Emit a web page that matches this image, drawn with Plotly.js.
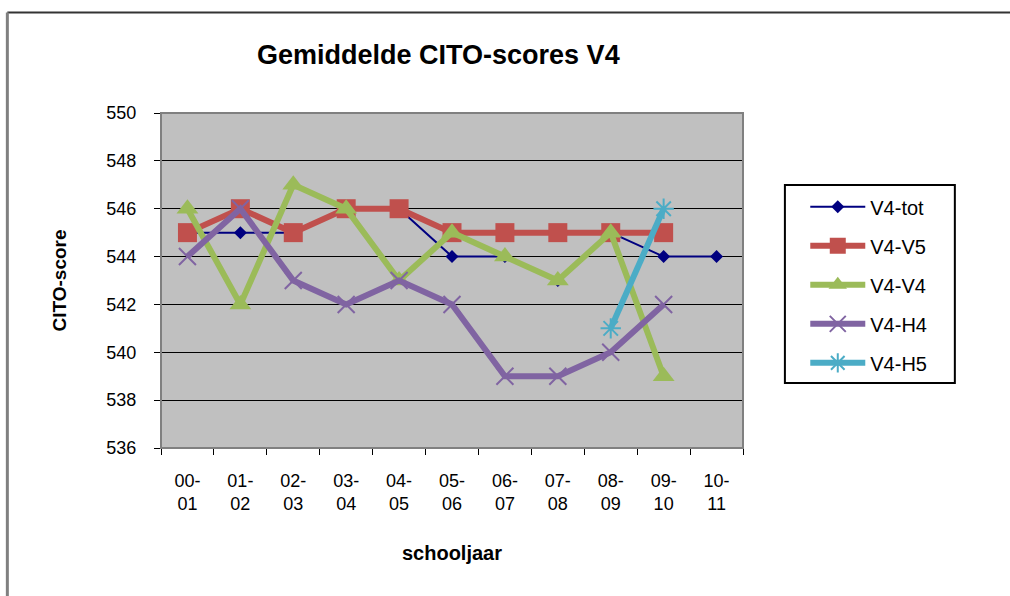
<!DOCTYPE html>
<html>
<head>
<meta charset="utf-8">
<script src="https://cdn.plot.ly/plotly-3.0.1.min.js"></script>
<style>html,body{margin:0;padding:0;background:#fff;}#chart{width:1010px;height:596px;}</style>
</head>
<body>
<div id="chart"></div>
<script>
var categories = ["00-<br>01","01-<br>02","02-<br>03","03-<br>04","04-<br>05","05-<br>06","06-<br>07","07-<br>08","08-<br>09","09-<br>10","10-<br>11"];
var v4tot = [545, 545, 545, 546, 546, 544, 544, 543, 545, 544, 544];
var v4v5  = [545, 546, 545, 546, 546, 545, 545, 545, 545, 545, null];
var v4v4  = [546, 542, 547, 546, 543, 545, 544, 543, 545, 539, null];
var v4h4  = [544, 546, 543, 542, 543, 542, 539, 539, 540, 542, null];
var v4h5  = [null, null, null, null, null, null, null, null, 541, 546, null];
var yTicks = [536, 538, 540, 542, 544, 546, 548, 550];

var F = "Liberation Sans, Arial, sans-serif";
function tr(name, y, color, lw, sym, size, grp, mline) {
  return {
    type: "scatter", mode: "lines+markers", name: name, x: categories, y: y,
    legendgroup: grp, connectgaps: false,
    line: {color: color, width: lw},
    marker: {symbol: sym, size: size, color: color, line: {color: color, width: mline || 0}}
  };
}
var data = [
  tr("V4-tot", v4tot, "#000080", 2, "diamond", 10, "a"),
  tr("V4-V5", v4v5, "#C0504D", 6, "square", 19, "b"),
  tr("V4-V4", v4v4, "#9BBB59", 6, "triangle-up", 19, "c"),
  tr("V4-H4", v4h4, "#8064A2", 6, "x-thin-open", 17, "d", 2),
  tr("V4-H5", v4h5, "#4BACC6", 6, "asterisk-open", 17, "e", 2)
];
var layout = {
  width: 1010, height: 596,
  margin: {l: 161, r: 267, t: 113, b: 148},
  paper_bgcolor: "#ffffff", plot_bgcolor: "#C0C0C0",
  font: {family: F, color: "#000", size: 18},
  title: {text: "<b>Gemiddelde CITO-scores V4</b>", font: {family: F, size: 27, color: "#000"}, x: 0.434, xanchor: "center", y: 0.908, yanchor: "middle"},
  xaxis: {
    type: "category", range: [-0.5, 10.5], tickson: "boundaries", ticks: "outside", ticklen: 6, tickcolor: "#000",
    showline: true, linecolor: "#000", linewidth: 1, showgrid: false, zeroline: false,
    ticklabelstandoff: 16,
    tickfont: {family: F, size: 18, color: "#000"},
    title: {text: "<b>schooljaar</b>", font: {family: F, size: 20, color: "#000"}, standoff: 32}
  },
  yaxis: {
    range: [536, 550], tickvals: yTicks, ticks: "outside", ticklen: 6, tickcolor: "#000",
    showline: true, linecolor: "#000", linewidth: 1, showgrid: true, gridcolor: "#000", gridwidth: 1,
    zeroline: false, ticklabelstandoff: 14, tickfont: {family: F, size: 18, color: "#000"},
    title: {text: "<b>CITO-score</b>", font: {family: F, size: 19, color: "#000"}, standoff: 34}
  },
  showlegend: true,
  legend: {
    x: 1.107, xanchor: "left", y: 0.778, yanchor: "top",
    bgcolor: "rgba(0,0,0,0)", borderwidth: 0, tracegroupgap: 10,
    font: {family: F, size: 20, color: "#000"}, itemwidth: 55
  },
  shapes: [
    {type: "rect", xref: "paper", yref: "paper", x0: 0, x1: 1, y0: 0, y1: 1, line: {color: "#808080", width: 2}, fillcolor: "rgba(0,0,0,0)", layer: "above"},
    {type: "rect", xref: "paper", yref: "paper", x0: 1.072, x1: 1.364, y0: 0.194, y1: 0.785, line: {color: "#000", width: 2}, fillcolor: "rgba(0,0,0,0)"},
    {type: "line", xref: "paper", yref: "paper", x0: -0.264, x1: 2, y0: 1.3, y1: 1.3, line: {color: "#333", width: 2}},
    {type: "line", xref: "paper", yref: "paper", x0: -0.264, x1: -0.264, y0: 1.3, y1: -1, line: {color: "#808080", width: 3}}
  ]
};
Plotly.newPlot("chart", data, layout, {displayModeBar: false, staticPlot: true});
</script>
</body>
</html>
